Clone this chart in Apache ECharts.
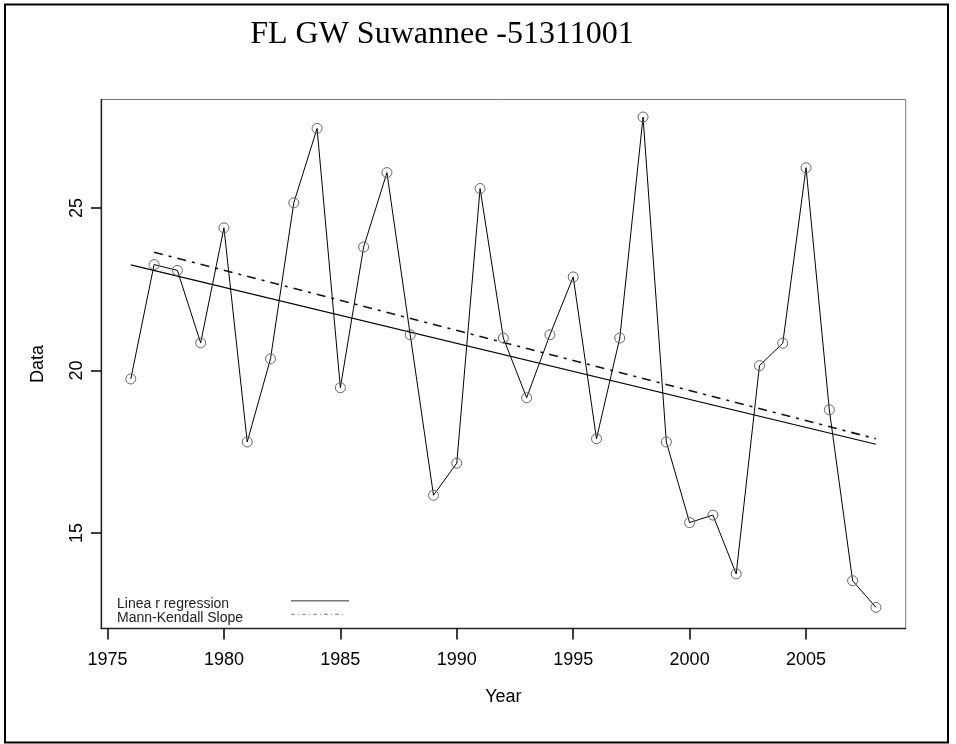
<!DOCTYPE html>
<html>
<head>
<meta charset="utf-8">
<script src="https://cdn.jsdelivr.net/npm/echarts@6/dist/echarts.min.js"></script>
<style>html,body{margin:0;padding:0;background:#fff;}#c{width:956px;height:744px;}</style>
</head>
<body>
<div id="c"></div>
<script>
const titleText = "FL GW Suwannee -51311001";
const years = [1976,1977,1978,1979,1980,1981,1982,1983,1984,1985,1986,1987,1988,1989,1990,1991,1992,1993,1994,1995,1996,1997,1998,1999,2000,2001,2002,2003,2004,2005,2006,2007,2008];
const values = [19.74,23.26,23.08,20.85,24.39,17.80,20.36,25.16,27.45,19.47,23.80,26.09,21.10,16.16,17.15,25.60,21.00,19.16,21.10,22.88,17.90,21.00,27.80,17.80,15.32,15.55,13.74,20.15,20.84,26.24,18.79,13.53,12.71];
const regYears = [1976, 2008];
const regValues = [23.25, 17.73];
const mkYears = [1977, 2008];
const mkValues = [23.64, 17.90];
const xTicks = [1975,1980,1985,1990,1995,2000,2005];
const yTicks = [15,20,25];
const legendNames = ["Linea r regression", "Mann-Kendall Slope"];

const pair = (xs, ys) => xs.map((x, i) => [x, ys[i]]);

const chart = echarts.init(document.getElementById('c'), null, {renderer: 'canvas'});
chart.setOption({
  animation: false,
  backgroundColor: '#fff',
  grid: {left: 101, top: 99.5, right: 50.3, bottom: 115.5, show: true, borderColor: '#777', borderWidth: 1, backgroundColor: 'transparent'},
  xAxis: {
    type: 'value', min: 1974.72, max: 2009.28,
    name: 'Year', nameLocation: 'middle', nameGap: 60,
    nameTextStyle: {fontFamily: 'Liberation Sans', fontSize: 18, color: '#000'},
    axisLine: {show: true, onZero: false, lineStyle: {color: '#222', width: 1.3}},
    axisTick: {show: true, length: 11, customValues: xTicks, lineStyle: {color: '#000', width: 1.5}},
    axisLabel: {customValues: xTicks, margin: 23, fontFamily: 'Liberation Sans', fontSize: 18, color: '#000', formatter: v => String(v)},
    splitLine: {show: false}
  },
  yAxis: {
    type: 'value', min: 12.06, max: 28.34,
    name: 'Data', nameLocation: 'middle', nameGap: 54, nameRotate: 90,
    nameTextStyle: {fontFamily: 'Liberation Sans', fontSize: 18, color: '#000'},
    axisLine: {show: true, onZero: false, lineStyle: {color: '#222', width: 1.3}},
    axisTick: {show: true, length: 10, customValues: yTicks, lineStyle: {color: '#000', width: 1.5}},
    axisLabel: {customValues: yTicks, rotate: 90, margin: 15, fontFamily: 'Liberation Sans', fontSize: 18, color: '#000', formatter: v => String(v)},
    splitLine: {show: false}
  },
  graphic: [
    {type: 'rect', shape: {x: 5, y: 4.5, width: 943, height: 738}, style: {fill: 'none', stroke: '#000', lineWidth: 2}, silent: true},
    {type: 'text', x: 442, y: 35, style: {text: titleText, align: 'center', verticalAlign: 'middle', fontFamily: 'Liberation Serif', fontSize: 32, fill: '#000'}},
    {type: 'text', x: 117, y: 604.5, style: {text: legendNames[0], align: 'left', verticalAlign: 'middle', fontFamily: 'Liberation Sans', fontSize: 14, fill: '#222'}},
    {type: 'text', x: 117, y: 618.5, style: {text: legendNames[1], align: 'left', verticalAlign: 'middle', fontFamily: 'Liberation Sans', fontSize: 14, fill: '#222'}},
    {type: 'line', shape: {x1: 291, y1: 600.7, x2: 349, y2: 600.7}, style: {stroke: '#777', lineWidth: 1.5}},
    {type: 'line', shape: {x1: 291, y1: 614.3, x2: 345, y2: 614.3}, style: {stroke: '#999', lineWidth: 1.2, lineDash: [4, 3, 1, 3]}}
  ],
  series: [
    {
      name: 'Data', type: 'line', data: pair(years, values),
      symbol: 'circle', symbolSize: 10, showSymbol: true,
      itemStyle: {color: 'rgba(0,0,0,0)', borderColor: '#666', borderWidth: 1},
      lineStyle: {color: '#000', width: 1}, z: 3
    },
    {
      name: legendNames[0], type: 'line', data: pair(regYears, regValues),
      symbol: 'none', lineStyle: {color: '#000', width: 1.2}, z: 2
    },
    {
      name: legendNames[1], type: 'line', data: pair(mkYears, mkValues),
      symbol: 'none', lineStyle: {color: '#111', width: 1.6, type: [9, 6, 3, 6]}, z: 2
    }
  ]
});
</script>
</body>
</html>
